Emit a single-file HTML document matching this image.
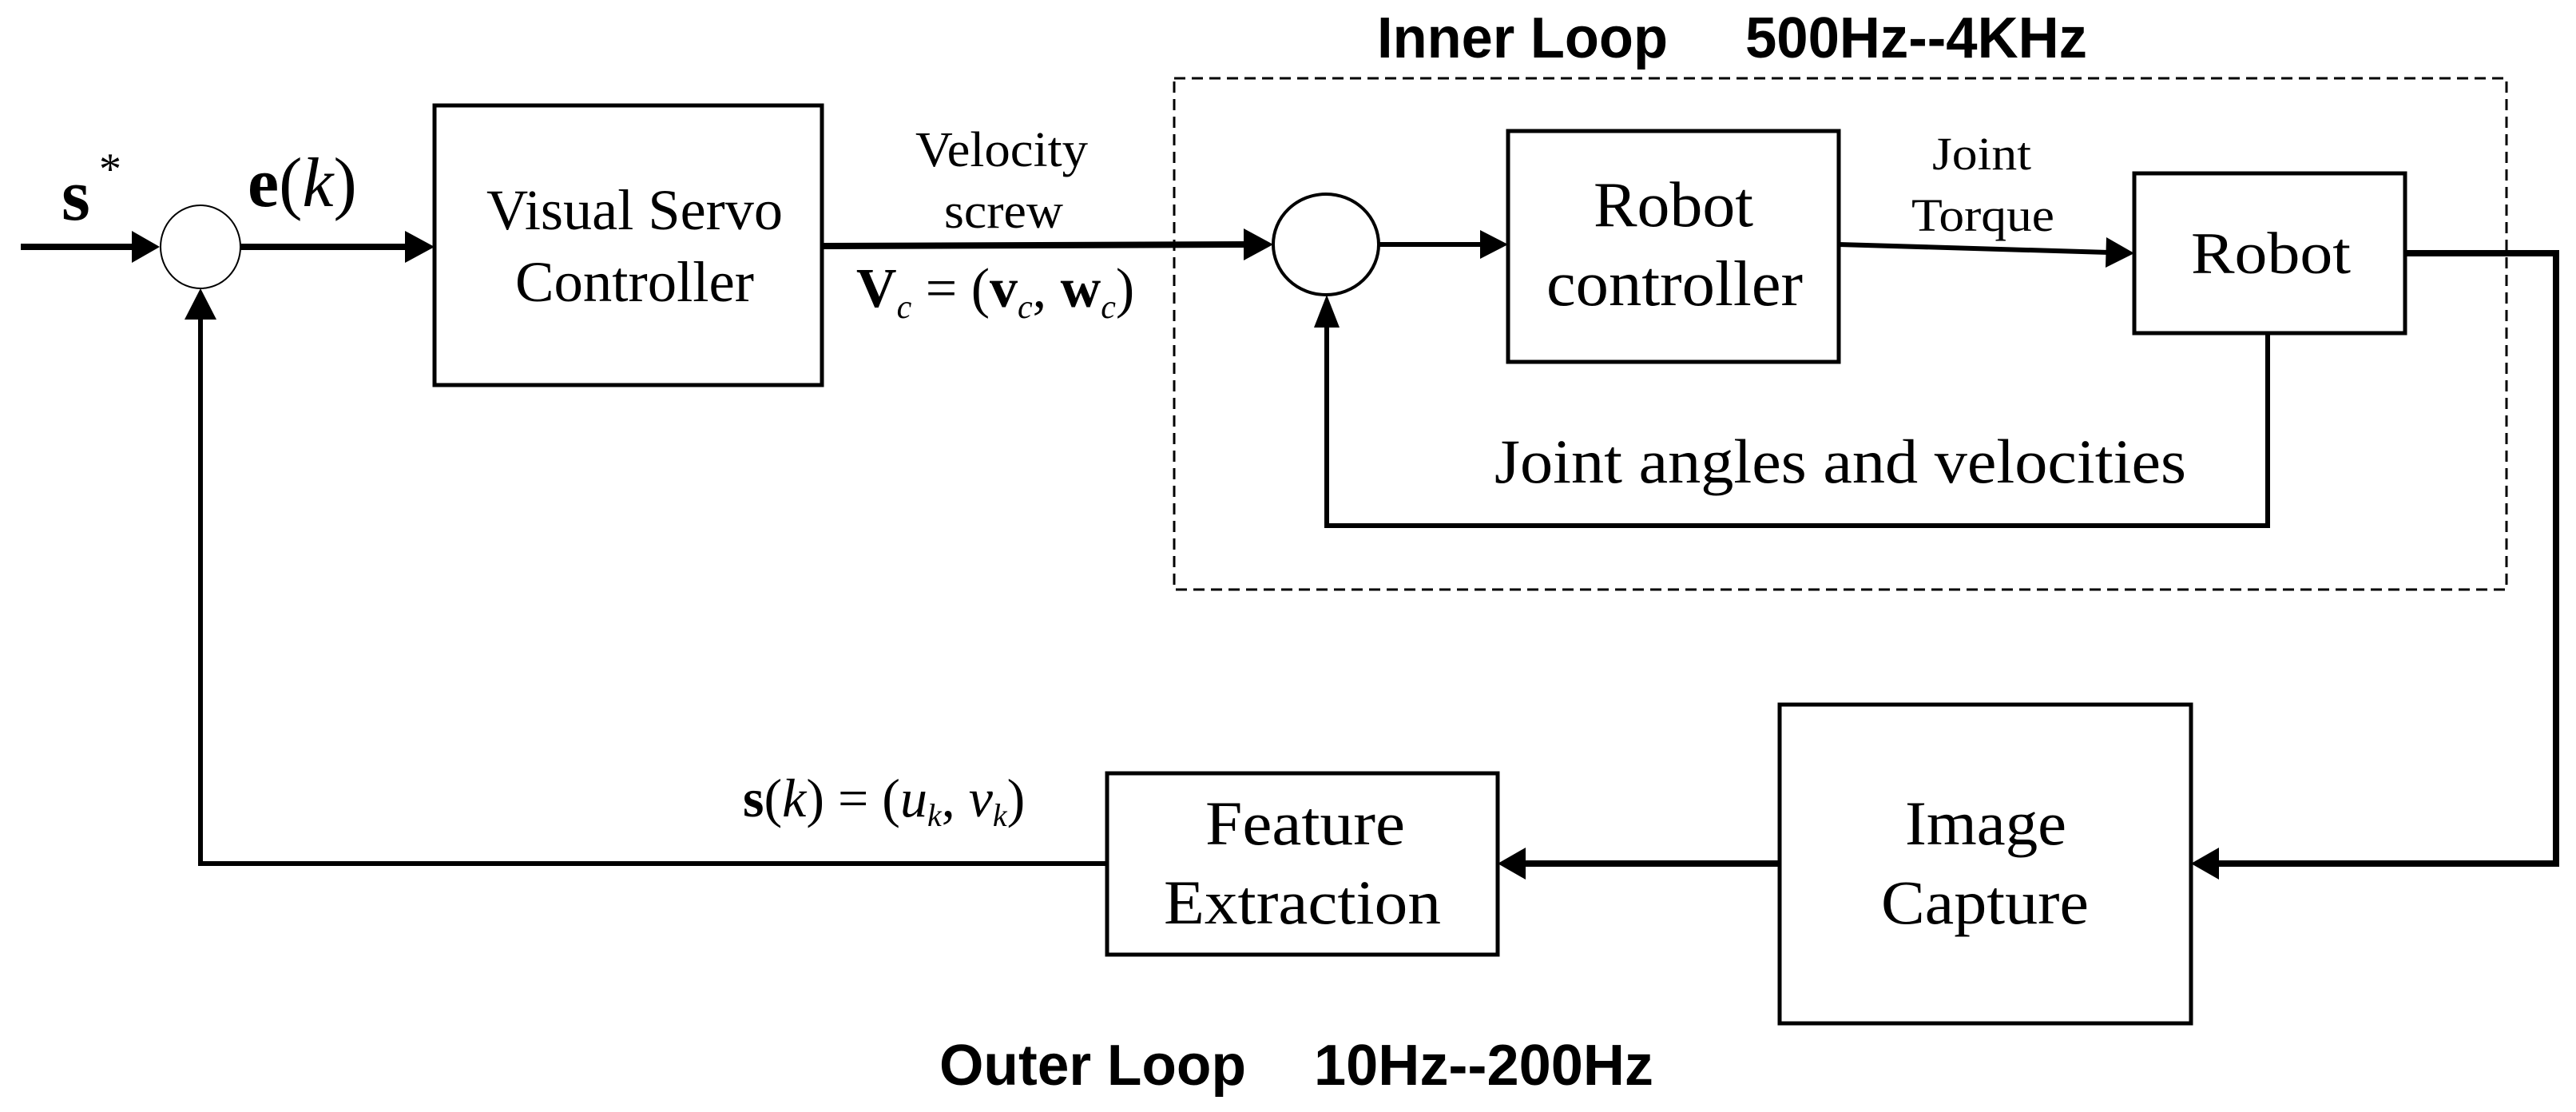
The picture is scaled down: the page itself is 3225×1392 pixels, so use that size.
<!DOCTYPE html>
<html><head><meta charset="utf-8"><style>
html,body{margin:0;padding:0;background:#fff;}
svg{display:block;}
.t{font-family:"Liberation Serif",serif;fill:#000;}
.b{font-family:"Liberation Sans",sans-serif;font-weight:bold;fill:#000;}
</style></head><body>
<svg width="3225" height="1392" viewBox="0 0 3225 1392" xmlns="http://www.w3.org/2000/svg">
<g fill="none" stroke="#000">
<rect x="1470" y="98" width="1668" height="640" stroke-width="3" stroke-dasharray="14 8"/>
<rect x="544" y="132" width="485" height="350" stroke-width="5"/>
<rect x="1888" y="164" width="414" height="289" stroke-width="5"/>
<rect x="2672" y="217" width="339" height="200" stroke-width="5"/>
<rect x="1386" y="968" width="489" height="227" stroke-width="5"/>
<rect x="2228" y="882" width="515" height="399" stroke-width="5"/>
<ellipse cx="251" cy="309" rx="50" ry="52" stroke-width="2"/>
<ellipse cx="1660" cy="306" rx="66" ry="63" stroke-width="4"/>
<line x1="26" y1="309" x2="170" y2="309" stroke-width="8"/>
<line x1="300" y1="309" x2="510" y2="309" stroke-width="8"/>
<line x1="1029" y1="308" x2="1560" y2="306" stroke-width="8"/>
<line x1="1727" y1="306" x2="1855" y2="306" stroke-width="6"/>
<line x1="2302" y1="306" x2="2640" y2="316" stroke-width="6"/>
<polyline points="3011,317 3200,317 3200,1081 2775,1081" stroke-width="8"/>
<line x1="2228" y1="1081" x2="1907" y2="1081" stroke-width="8"/>
<polyline points="1386,1081 251,1081 251,398" stroke-width="6"/>
<polyline points="2839,417 2839,658 1661,658 1661,408" stroke-width="6"/>
</g>
<g fill="#000">
<polygon points="200,309 165,289 165,329"/>
<polygon points="544,309 507,289 507,329"/>
<polygon points="1594,306 1557,286 1557,326"/>
<polygon points="1888,306 1853,288 1853,324"/>
<polygon points="2672,317 2637,297 2636,335"/>
<polygon points="2743,1081 2778,1061 2778,1101"/>
<polygon points="1875,1081 1910,1061 1910,1101"/>
<polygon points="251,361 231,400 271,400"/>
<polygon points="1661,369 1645,410 1677,410"/>
</g>
<text class="b" x="1724" y="72" font-size="72" textLength="364" lengthAdjust="spacingAndGlyphs">Inner Loop</text>
<text class="b" x="2185" y="72" font-size="72" textLength="428" lengthAdjust="spacingAndGlyphs">500Hz--4KHz</text>
<text class="b" x="1176" y="1358" font-size="72" textLength="384" lengthAdjust="spacingAndGlyphs">Outer Loop</text>
<text class="b" x="1645" y="1358" font-size="72" textLength="425" lengthAdjust="spacingAndGlyphs">10Hz--200Hz</text>
<text class="t" x="609" y="287" font-size="72" textLength="371" lengthAdjust="spacingAndGlyphs">Visual Servo</text>
<text class="t" x="645" y="377" font-size="72" textLength="299" lengthAdjust="spacingAndGlyphs">Controller</text>
<text class="t" x="1995" y="283" font-size="80" textLength="200" lengthAdjust="spacingAndGlyphs">Robot</text>
<text class="t" x="1936" y="382" font-size="80" textLength="321" lengthAdjust="spacingAndGlyphs">controller</text>
<text class="t" x="2743" y="342" font-size="74" textLength="200" lengthAdjust="spacingAndGlyphs">Robot</text>
<text class="t" x="1509" y="1057" font-size="78" textLength="250" lengthAdjust="spacingAndGlyphs">Feature</text>
<text class="t" x="1457" y="1156" font-size="78" textLength="347" lengthAdjust="spacingAndGlyphs">Extraction</text>
<text class="t" x="2385" y="1057" font-size="78" textLength="202" lengthAdjust="spacingAndGlyphs">Image</text>
<text class="t" x="2355" y="1156" font-size="78" textLength="260" lengthAdjust="spacingAndGlyphs">Capture</text>
<text class="t" x="1146" y="208" font-size="62" textLength="216" lengthAdjust="spacingAndGlyphs">Velocity</text>
<text class="t" x="1182" y="285" font-size="62" textLength="149" lengthAdjust="spacingAndGlyphs">screw</text>
<text class="t" x="2419" y="212" font-size="58" textLength="124" lengthAdjust="spacingAndGlyphs">Joint</text>
<text class="t" x="2393" y="289" font-size="58" textLength="179" lengthAdjust="spacingAndGlyphs">Torque</text>
<text class="t" x="1871" y="604" font-size="78" textLength="866" lengthAdjust="spacingAndGlyphs">Joint angles and velocities</text>
<text class="t" x="77" y="275" font-size="92" font-weight="bold">s</text>
<text class="t" x="124" y="230" font-size="56">*</text>
<text class="t" x="310" y="258" font-size="88"><tspan font-weight="bold">e</tspan>(<tspan font-style="italic">k</tspan>)</text>
<text class="t" x="1072" y="384" font-size="70"><tspan font-weight="bold">V</tspan><tspan font-style="italic" font-size="42" dy="14">c</tspan><tspan dy="-14"> = (</tspan><tspan font-weight="bold">v</tspan><tspan font-style="italic" font-size="42" dy="14">c</tspan><tspan dy="-14">, </tspan><tspan font-weight="bold">w</tspan><tspan font-style="italic" font-size="42" dy="14">c</tspan><tspan dy="-14">)</tspan></text>
<text class="t" x="930" y="1022" font-size="68"><tspan font-weight="bold">s</tspan>(<tspan font-style="italic">k</tspan>) = (<tspan font-style="italic">u</tspan><tspan font-style="italic" font-size="40" dy="12">k</tspan><tspan dy="-12">, </tspan><tspan font-style="italic">v</tspan><tspan font-style="italic" font-size="40" dy="12">k</tspan><tspan dy="-12">)</tspan></text>
</svg>
</body></html>
